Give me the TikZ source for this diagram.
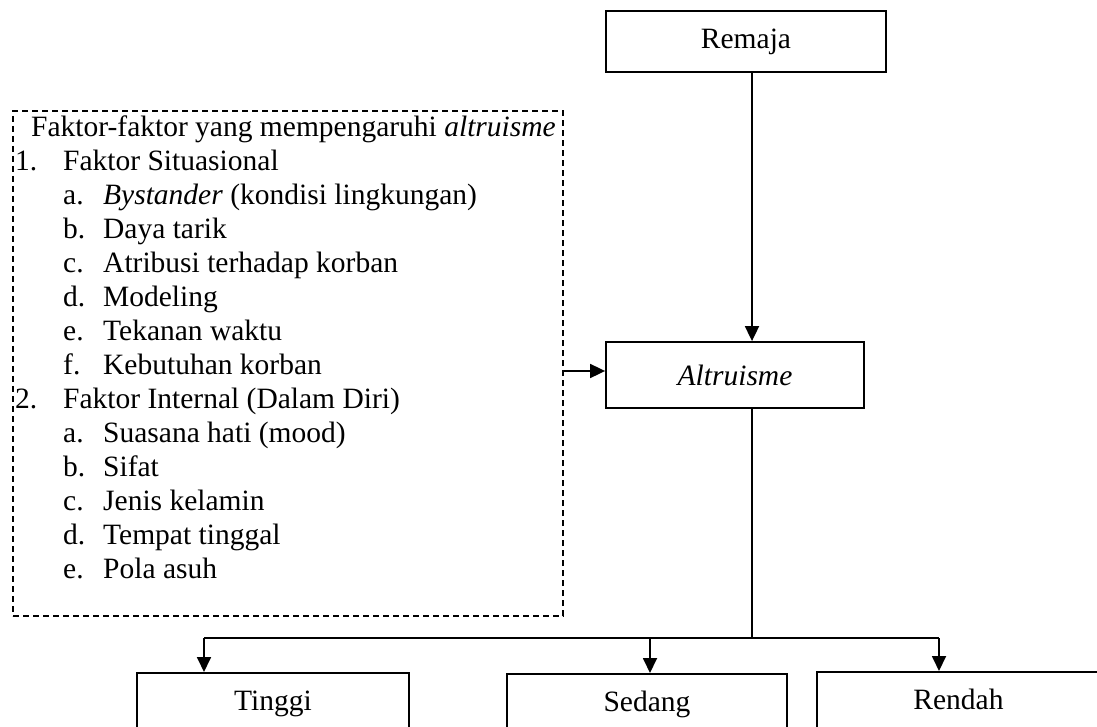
\documentclass[tikz,border=0pt]{standalone}
\usepackage{fontspec}
\setmainfont{Liberation Serif}
\usetikzlibrary{arrows.meta}
\newcommand{\mainitm}[2]{\makebox[48pt][l]{#1}#2}
\newcommand{\subitm}[2]{\hspace*{48pt}\makebox[40pt][l]{#1}#2}
\begin{document}
\begin{tikzpicture}[x=1pt,y=-1pt,
  txt/.style={font=\fontsize{29.5}{34}\selectfont},
  box/.style={draw, line width=1.8pt, inner sep=0pt, txt},
  lowbox/.style={box, anchor=north, text height=19pt, text depth=70pt, inner ysep=19pt},
  dashbox/.style={draw, line width=1.4pt, dash pattern=on 6pt off 4pt, inner sep=0pt},
  conn/.style={line width=1.8pt},
  arr/.style={conn, -{Triangle[length=15pt,width=14pt]}}]
\useasboundingbox (0,0) rectangle (1097,727);
\clip (0,0) rectangle (1097,727);
\node[box, minimum width=280pt, minimum height=61pt] (remaja) at (746,41.5) {Remaja};
\node[box, minimum width=258pt, minimum height=66pt] (altr) at (735,375) {\textit{Altruisme}};
\node[dashbox, minimum width=550pt, minimum height=505pt] (faktor) at (288,363.5) {};
\node[txt, anchor=base west, inner sep=0pt] (list) at (15,137) {\begin{tabular}[t]{@{}l@{}}
\hspace*{16pt}Faktor-faktor yang mempengaruhi \textit{altruisme}\\
\mainitm{1.}{Faktor Situasional}\\
\subitm{a.}{\textit{Bystander} (kondisi lingkungan)}\\
\subitm{b.}{Daya tarik}\\
\subitm{c.}{Atribusi terhadap korban}\\
\subitm{d.}{Modeling}\\
\subitm{e.}{Tekanan waktu}\\
\subitm{f.}{Kebutuhan korban}\\
\mainitm{2.}{Faktor Internal (Dalam Diri)}\\
\subitm{a.}{Suasana hati (mood)}\\
\subitm{b.}{Sifat}\\
\subitm{c.}{Jenis kelamin}\\
\subitm{d.}{Tempat tinggal}\\
\subitm{e.}{Pola asuh}
\end{tabular}};
\node[lowbox, minimum width=272pt] (tinggi) at (273,672) {Tinggi};
\node[lowbox, minimum width=280pt] (sedang) at (647,673) {Sedang};
\node[lowbox, minimum width=283pt] (rendah) at (958.5,671) {Rendah};
\coordinate (spine) at (752,0);
\coordinate (lvl) at (0,371);
\coordinate (hl) at (204,638);
\coordinate (hm) at (650,638);
\coordinate (hr) at (939,638);
\draw[arr] (remaja.south -| spine) -- (altr.north -| spine);
\draw[arr] (faktor.east |- lvl) -- (altr.west |- lvl);
\draw[conn] (altr.south -| spine) -- (spine |- hl);
\draw[conn] (hl) -- (hr);
\draw[arr] (hl) -- (hl |- tinggi.north);
\draw[arr] (hm) -- (hm |- sedang.north);
\draw[arr] (hr) -- (hr |- rendah.north);
\end{tikzpicture}
\end{document}
